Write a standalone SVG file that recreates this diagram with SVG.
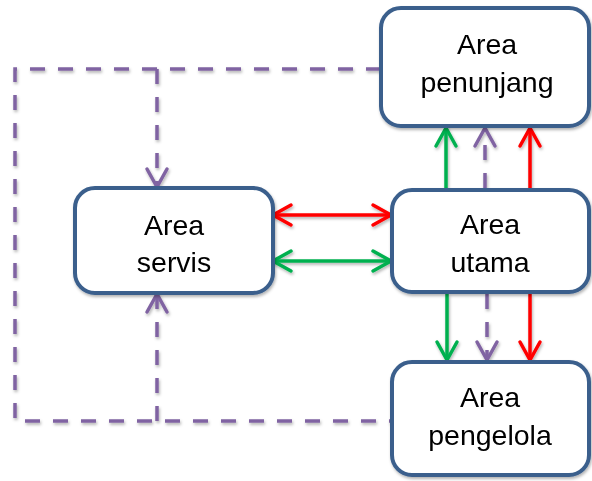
<svg xmlns="http://www.w3.org/2000/svg" width="592" height="481" viewBox="0 0 592 481">
<style>
.box{fill:#fff;stroke:#3A5F8C;stroke-width:4}
.lbl{font-family:"Liberation Sans",Arial,sans-serif;font-size:28.5px;fill:#000;text-anchor:middle}
.con{fill:none;stroke-width:3.5}
.red{stroke:#FF0000}
.grn{stroke:#00B050}
.pur{stroke:#8064A2}
.dash{stroke-dasharray:15 13}
</style>
<defs>
<filter id="sh" x="-10%" y="-10%" width="130%" height="130%">
<feDropShadow dx="1" dy="2" stdDeviation="1.5" flood-color="#000" flood-opacity="0.3"/>
</filter>
<marker id="mr" markerUnits="userSpaceOnUse" markerWidth="30" markerHeight="30" viewBox="-25 -15 30 30" refX="0" refY="0" orient="auto-start-reverse">
<path d="M-18,-10 L0,0 L-18,10" fill="none" stroke="#FF0000" stroke-width="3.5" stroke-linecap="round"/>
</marker>
<marker id="mg" markerUnits="userSpaceOnUse" markerWidth="30" markerHeight="30" viewBox="-25 -15 30 30" refX="0" refY="0" orient="auto-start-reverse">
<path d="M-18,-10 L0,0 L-18,10" fill="none" stroke="#00B050" stroke-width="3.5" stroke-linecap="round"/>
</marker>
<marker id="mp" markerUnits="userSpaceOnUse" markerWidth="30" markerHeight="30" viewBox="-25 -15 30 30" refX="0" refY="0" orient="auto-start-reverse">
<path d="M-18,-10 L0,0 L-18,10" fill="none" stroke="#8064A2" stroke-width="3.5" stroke-linecap="round"/>
</marker>
</defs>
<g id="connectors" filter="url(#sh)">
<path class="con pur dash" d="M381,69 H15 V421 H392"/>
<path class="con pur dash" d="M157,69 V187" marker-end="url(#mp)"/>
<path class="con pur dash" d="M157,421 V294" marker-end="url(#mp)"/>
<path class="con red" d="M273,215 H391" marker-start="url(#mr)" marker-end="url(#mr)"/>
<path class="con grn" d="M273,261 H391" marker-start="url(#mg)" marker-end="url(#mg)"/>
<path class="con grn" d="M446,188 V128" marker-end="url(#mg)"/>
<path class="con pur dash" d="M485,188 V128" marker-end="url(#mp)"/>
<path class="con red" d="M530,188 V128" marker-end="url(#mr)"/>
<path class="con grn" d="M447,294 V360" marker-end="url(#mg)"/>
<path class="con pur dash" d="M487,294 V360" marker-end="url(#mp)"/>
<path class="con red" d="M530,294 V360" marker-end="url(#mr)"/>
</g>
<g id="penunjang" filter="url(#sh)">
<rect class="box" x="381" y="8" width="208" height="118" rx="20"/>
<text class="lbl" x="487" y="54">Area</text>
<text class="lbl" x="487" y="92">penunjang</text>
</g>
<g id="servis" filter="url(#sh)">
<rect class="box" x="75" y="188" width="198" height="105" rx="20"/>
<text class="lbl" x="174" y="235">Area</text>
<text class="lbl" x="174" y="272">servis</text>
</g>
<g id="utama" filter="url(#sh)">
<rect class="box" x="392" y="190" width="197" height="102" rx="20"/>
<text class="lbl" x="490" y="234">Area</text>
<text class="lbl" x="490" y="272">utama</text>
</g>
<g id="pengelola" filter="url(#sh)">
<rect class="box" x="392" y="362" width="197" height="113" rx="20"/>
<text class="lbl" x="490" y="407">Area</text>
<text class="lbl" x="490" y="445">pengelola</text>
</g>
</svg>
